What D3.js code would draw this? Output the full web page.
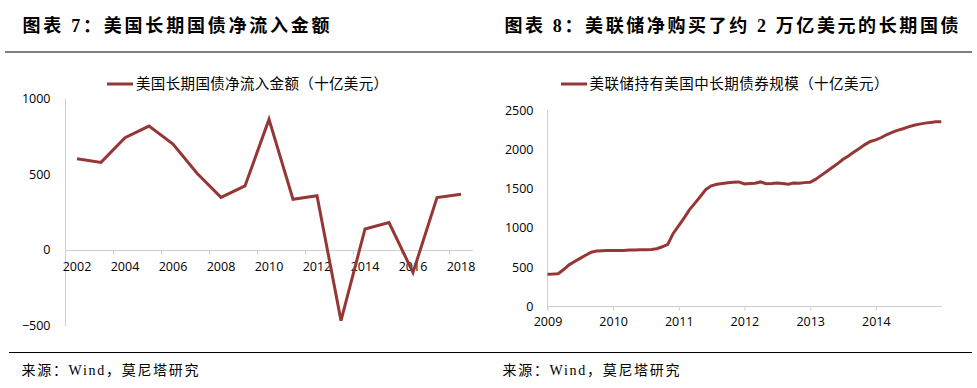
<!DOCTYPE html>
<html>
<head>
<meta charset="utf-8">
<script src="https://cdn.jsdelivr.net/npm/d3@7"></script>
<style>
  body { margin: 0; background: #fff; }
  .title { font-family: "Liberation Serif", "Noto Sans CJK SC", serif; font-weight: bold; font-size: 18px; fill: #000; }
  .legend { font-family: "Noto Sans CJK SC", sans-serif; font-size: 14.5px; fill: #000; }
  .tick text { font-family: "Open Sans", sans-serif; font-size: 12.5px; fill: #000; }
  .note { font-family: "Liberation Serif", "Noto Sans CJK SC", serif; font-size: 14px; fill: #000; }
</style>
</head>
<body>
<svg id="main"></svg>
<script>
// left chart: yearly net inflow
var years = [2002, 2003, 2004, 2005, 2006, 2007, 2008, 2009, 2010, 2011, 2012, 2013, 2014, 2015, 2016, 2017, 2018];
var netInflow = [602, 578, 741, 818, 699, 506, 347, 422, 862, 334, 358, -468, 138, 180, -150, 345, 367];
var leftYTicks = [-500, 0, 500, 1000];
var leftXLabels = [2002, 2004, 2006, 2008, 2010, 2012, 2014, 2016, 2018];

// right chart: fed holdings, monthly
var fedDates = ["2009-01-01","2009-02-01","2009-03-01","2009-04-01","2009-05-01","2009-06-01","2009-07-01","2009-08-01","2009-09-01","2009-10-01","2009-11-01","2009-12-01",
  "2010-01-01","2010-02-01","2010-03-01","2010-04-01","2010-05-01","2010-06-01","2010-07-01","2010-08-01","2010-09-01","2010-10-01","2010-11-01","2010-12-01",
  "2011-01-01","2011-02-01","2011-03-01","2011-04-01","2011-05-01","2011-06-01","2011-07-01","2011-08-01","2011-09-01","2011-10-01","2011-11-01","2011-12-01",
  "2012-01-01","2012-02-01","2012-03-01","2012-04-01","2012-05-01","2012-06-01","2012-07-01","2012-08-01","2012-09-01","2012-10-01","2012-11-01","2012-12-01",
  "2013-01-01","2013-02-01","2013-03-01","2013-04-01","2013-05-01","2013-06-01","2013-07-01","2013-08-01","2013-09-01","2013-10-01","2013-11-01","2013-12-01",
  "2014-01-01","2014-02-01","2014-03-01","2014-04-01","2014-05-01","2014-06-01","2014-07-01","2014-08-01","2014-09-01","2014-10-01","2014-11-01","2014-12-01","2014-12-31"];
var fedHoldings = [411, 412, 416, 470, 530, 572, 612, 652, 690, 705, 710, 712,
  712, 712, 712, 718, 720, 721, 722, 725, 735, 760, 790, 930,
  1030, 1130, 1230, 1315, 1400, 1490, 1535, 1555, 1565, 1575, 1580, 1585,
  1560, 1565, 1568, 1585, 1562, 1565, 1572, 1566, 1555, 1570, 1568, 1576,
  1580, 1620, 1665, 1715, 1765, 1815, 1870, 1915, 1965, 2010, 2060, 2100,
  2120, 2150, 2185, 2215, 2240, 2262, 2285, 2305, 2320, 2333, 2342, 2350, 2352];
var rightYTicks = [0, 500, 1000, 1500, 2000, 2500];
var rightXTicks = [2009, 2010, 2011, 2012, 2013, 2014];

var w = 977, h = 388;
var lineColor = "#953735";
var axisColor = "#d0d0d0";

var svg = d3.select("#main").attr("width", w).attr("height", h);
svg.append("rect").attr("width", w).attr("height", h).attr("fill", "#fff");

// titles + rules
svg.append("text").attr("class", "title").attr("x", 22.5).attr("y", 32)
  .attr("textLength", 307).attr("lengthAdjust", "spacing").text("图表 7：美国长期国债净流入金额");
svg.append("text").attr("class", "title").attr("x", 504.5).attr("y", 32)
  .attr("textLength", 454).attr("lengthAdjust", "spacing").text("图表 8：美联储净购买了约 2 万亿美元的长期国债");
svg.append("line").attr("x1", 5).attr("x2", 972).attr("y1", 52).attr("y2", 52).attr("stroke", "#000").attr("stroke-width", 1);
svg.append("line").attr("x1", 9).attr("x2", 972).attr("y1", 352.5).attr("y2", 352.5).attr("stroke", "#000").attr("stroke-width", 1);
svg.append("text").attr("class", "note").attr("x", 21.5).attr("y", 375)
  .attr("textLength", 177).attr("lengthAdjust", "spacing").text("来源：Wind，莫尼塔研究");
svg.append("text").attr("class", "note").attr("x", 502.5).attr("y", 375)
  .attr("textLength", 177).attr("lengthAdjust", "spacing").text("来源：Wind，莫尼塔研究");

var fmt = d3.format("d");

// ---- left chart ----
var xBand = d3.scaleBand().domain(years).range([65, 473]).padding(0);
var bw = xBand.bandwidth();
var yLeft = d3.scaleLinear().domain([-500, 1000]).range([325.5, 98.5]);

var gL = svg.append("g");
gL.append("line").attr("x1", 65.5).attr("x2", 65.5).attr("y1", yLeft(1000)).attr("y2", yLeft(-500) + 1)
  .attr("stroke", axisColor);
var yAxisL = d3.axisLeft(yLeft).tickValues(leftYTicks).tickFormat(fmt).tickSize(0).tickPadding(15);
gL.append("g").attr("transform", "translate(65.5,0)").call(yAxisL)
  .call(function(g) { g.select(".domain").remove(); });

// x axis at zero
var x0 = Math.round(yLeft(0)) + 0.5;
gL.append("line").attr("x1", 65).attr("x2", 473).attr("y1", x0).attr("y2", x0).attr("stroke", axisColor);
leftXLabels.slice(1).forEach(function(yr) {
  var tx = Math.round(xBand(yr)) + 0.5;
  gL.append("line").attr("x1", tx).attr("x2", tx).attr("y1", x0).attr("y2", x0 + 4).attr("stroke", axisColor);
});
var xAxisL = d3.axisBottom(xBand).tickValues(leftXLabels).tickSize(0).tickPadding(12);
gL.append("g").attr("transform", "translate(0," + x0 + ")").call(xAxisL)
  .call(function(g) { g.select(".domain").remove(); });

var lineL = d3.line()
  .x(function(d, i) { return xBand(years[i]) + bw / 2; })
  .y(function(d) { return yLeft(d); });
gL.append("path").datum(netInflow).attr("d", lineL)
  .attr("fill", "none").attr("stroke", lineColor).attr("stroke-width", 3).attr("stroke-linejoin", "miter");

// legend
gL.append("line").attr("x1", 107).attr("x2", 133).attr("y1", 84).attr("y2", 84).attr("stroke", lineColor).attr("stroke-width", 3);
gL.append("text").attr("class", "legend").attr("x", 136).attr("y", 84).attr("dy", "0.36em")
  .attr("textLength", 252).attr("lengthAdjust", "spacing").text("美国长期国债净流入金额（十亿美元）");

// ---- right chart ----
var parse = d3.timeParse("%Y-%m-%d");
var dates = fedDates.map(parse);
var xTime = d3.scaleTime().domain([new Date(2009, 0, 1), new Date(2015, 0, 1)]).range([547.5, 941.5]);
var yRight = d3.scaleLinear().domain([0, 2500]).range([306.5, 110]);

var gR = svg.append("g");
gR.append("line").attr("x1", 547.5).attr("x2", 547.5).attr("y1", yRight(2500)).attr("y2", 310.5).attr("stroke", axisColor);
var yAxisR = d3.axisLeft(yRight).tickValues(rightYTicks).tickFormat(fmt).tickSize(0).tickPadding(14);
gR.append("g").attr("transform", "translate(547.5,0)").call(yAxisR)
  .call(function(g) { g.select(".domain").remove(); });

gR.append("line").attr("x1", 547).attr("x2", 942).attr("y1", 306.5).attr("y2", 306.5).attr("stroke", axisColor);
var xAxisR = d3.axisBottom(xTime)
  .tickValues(rightXTicks.map(function(y) { return new Date(y, 0, 1); }))
  .tickFormat(d3.timeFormat("%Y")).tickSize(4).tickPadding(7);
gR.append("g").attr("transform", "translate(0,306.5)").call(xAxisR)
  .call(function(g) {
    g.select(".domain").remove();
    g.selectAll(".tick line").attr("stroke", axisColor);
  });

var lineR = d3.line()
  .x(function(d, i) { return xTime(dates[i]); })
  .y(function(d) { return yRight(d); });
gR.append("path").datum(fedHoldings).attr("d", lineR)
  .attr("fill", "none").attr("stroke", lineColor).attr("stroke-width", 3);

gR.append("line").attr("x1", 561).attr("x2", 587).attr("y1", 84).attr("y2", 84).attr("stroke", lineColor).attr("stroke-width", 3);
gR.append("text").attr("class", "legend").attr("x", 589.5).attr("y", 84).attr("dy", "0.36em")
  .attr("textLength", 299).attr("lengthAdjust", "spacing").text("美联储持有美国中长期债券规模（十亿美元）");
</script>
</body>
</html>
